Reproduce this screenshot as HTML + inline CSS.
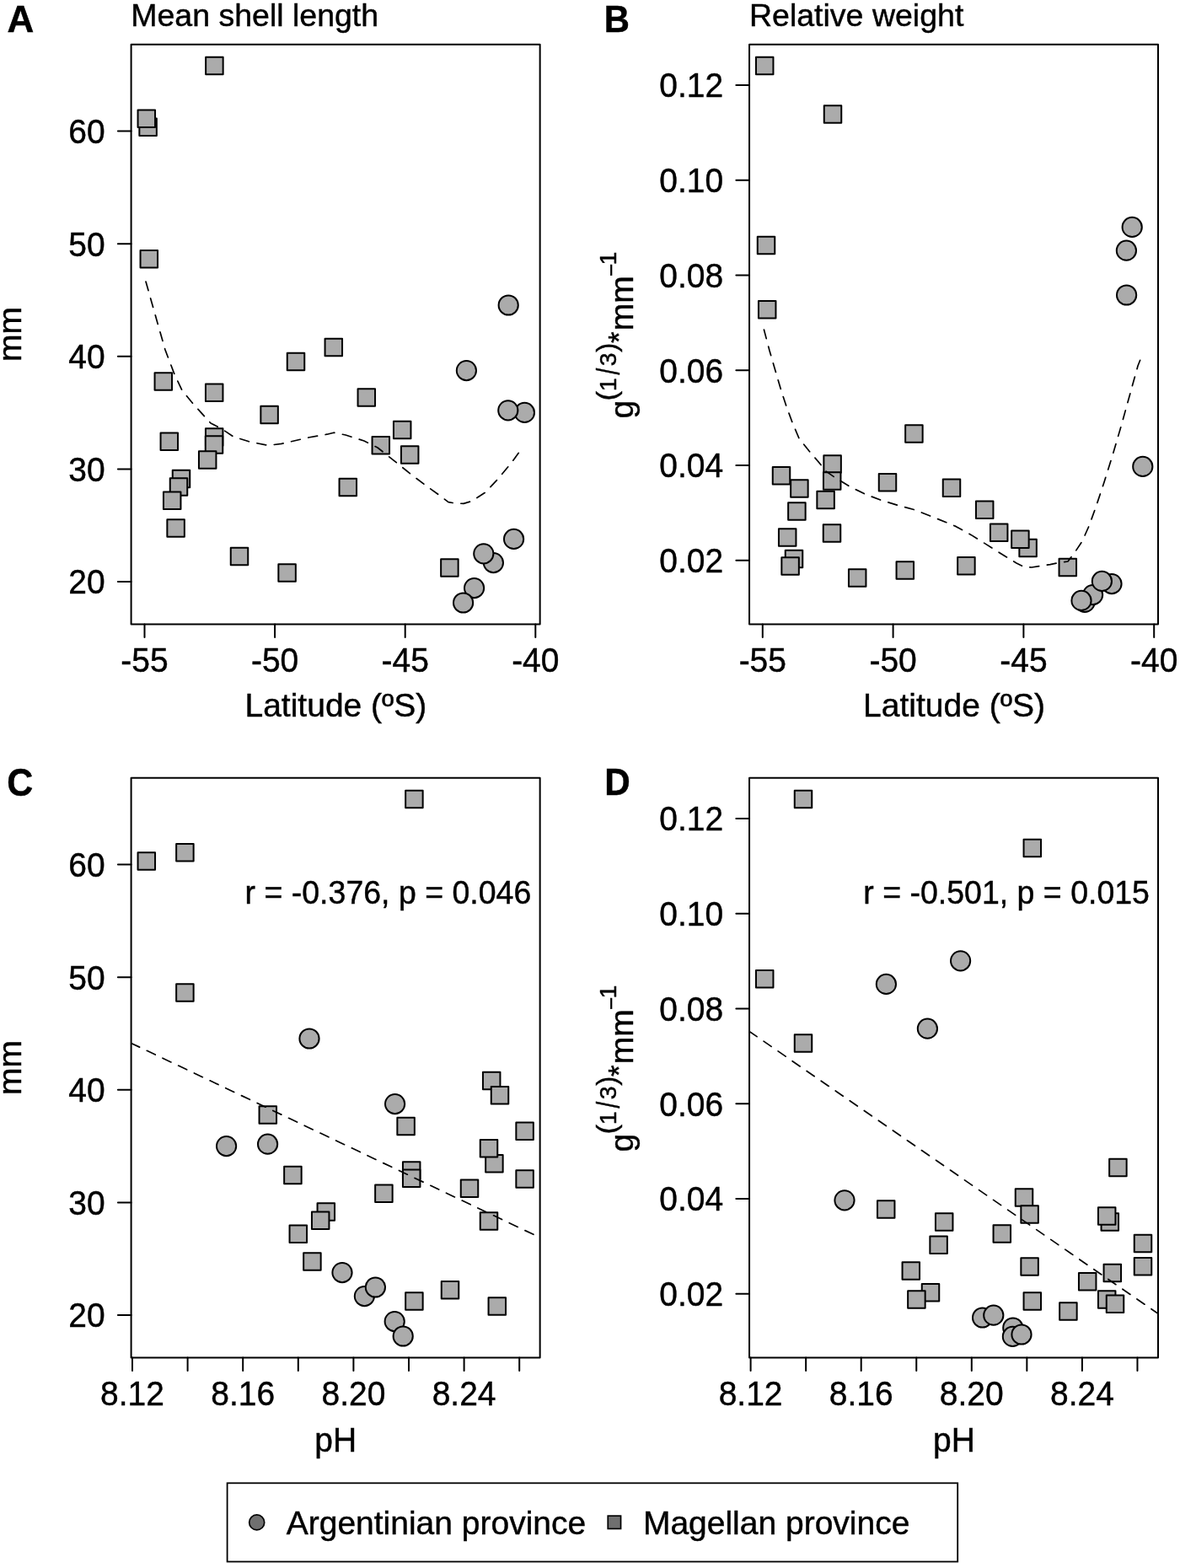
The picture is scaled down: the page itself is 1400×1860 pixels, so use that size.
<!DOCTYPE html>
<html lang="en"><head><meta charset="utf-8"><title>Shell length and relative weight vs latitude and pH</title>
<style>html,body{margin:0;padding:0;background:#fff}body{width:1400px;height:1860px;overflow:hidden}svg{display:block}text{font-family:"Liberation Sans",Arial,Helvetica,sans-serif;fill:#000;stroke:#000;stroke-width:0.45px}</style></head><body>
<svg width="1400" height="1860" viewBox="0 0 1400 1860" font-size="39.0">
<rect width="1400" height="1860" fill="#fff"/>
<defs><clipPath id="clipC"><rect x="155.6" y="922.7" width="485.05" height="687.7"/></clipPath><clipPath id="clipD"><rect x="889.05" y="922.7" width="484.95" height="687.7"/></clipPath></defs>
<rect x="155.6" y="52.7" width="485.05" height="687.70" fill="none" stroke="#000" stroke-width="2.0" stroke-linejoin="round"/>
<path d="M155.6 155.60h-15.7M155.6 289.20h-15.7M155.6 422.80h-15.7M155.6 556.40h-15.7M155.6 690.00h-15.7" stroke="#000" stroke-width="2.0" stroke-linecap="round" fill="none"/>
<text transform="translate(124.60,170.00) scale(0.9610,1)" font-size="40.58" text-anchor="end">60</text>
<text transform="translate(124.60,303.60) scale(0.9610,1)" font-size="40.58" text-anchor="end">50</text>
<text transform="translate(124.60,437.20) scale(0.9610,1)" font-size="40.58" text-anchor="end">40</text>
<text transform="translate(124.60,570.80) scale(0.9610,1)" font-size="40.58" text-anchor="end">30</text>
<text transform="translate(124.60,704.40) scale(0.9610,1)" font-size="40.58" text-anchor="end">20</text>
<text transform="translate(25,396.4) rotate(-90)" text-anchor="middle">mm</text>
<rect x="889.05" y="52.7" width="484.95" height="687.70" fill="none" stroke="#000" stroke-width="2.0" stroke-linejoin="round"/>
<path d="M889.05 101.00h-15.7M889.05 213.75h-15.7M889.05 326.50h-15.7M889.05 439.25h-15.7M889.05 552.00h-15.7M889.05 664.75h-15.7" stroke="#000" stroke-width="2.0" stroke-linecap="round" fill="none"/>
<text transform="translate(858.20,115.40) scale(0.9610,1)" font-size="40.58" text-anchor="end">0.12</text>
<text transform="translate(858.20,228.15) scale(0.9610,1)" font-size="40.58" text-anchor="end">0.10</text>
<text transform="translate(858.20,340.90) scale(0.9610,1)" font-size="40.58" text-anchor="end">0.08</text>
<text transform="translate(858.20,453.65) scale(0.9610,1)" font-size="40.58" text-anchor="end">0.06</text>
<text transform="translate(858.20,566.40) scale(0.9610,1)" font-size="40.58" text-anchor="end">0.04</text>
<text transform="translate(858.20,679.15) scale(0.9610,1)" font-size="40.58" text-anchor="end">0.02</text>
<g transform="translate(750.5,494.1) rotate(-90)"><text x="-2.4" y="0.2">g</text><text x="18.84" y="-19.62" font-size="33.7" stroke-width="0.2">(</text><text x="29.76" y="-19.4" font-size="28.5">1</text><text transform="translate(49.65,-15.37) scale(0.72,1)" font-size="38.7" stroke-width="0.3">/</text><text x="59.9" y="-19.3" font-size="28.5">3</text><text x="76.38" y="-19.62" font-size="33.7" stroke-width="0.2">)</text><text x="87.04" y="-4.44" font-size="35">*</text><text x="101.9" y="0">mm</text><text x="166.2" y="-16.98" font-size="26">−</text><text x="179.7" y="-19.4" font-size="28.5">1</text></g>
<rect x="155.6" y="922.7" width="485.05" height="687.70" fill="none" stroke="#000" stroke-width="2.0" stroke-linejoin="round"/>
<path d="M155.6 1025.60h-15.7M155.6 1159.20h-15.7M155.6 1292.80h-15.7M155.6 1426.40h-15.7M155.6 1560.00h-15.7" stroke="#000" stroke-width="2.0" stroke-linecap="round" fill="none"/>
<text transform="translate(124.60,1040.00) scale(0.9610,1)" font-size="40.58" text-anchor="end">60</text>
<text transform="translate(124.60,1173.60) scale(0.9610,1)" font-size="40.58" text-anchor="end">50</text>
<text transform="translate(124.60,1307.20) scale(0.9610,1)" font-size="40.58" text-anchor="end">40</text>
<text transform="translate(124.60,1440.80) scale(0.9610,1)" font-size="40.58" text-anchor="end">30</text>
<text transform="translate(124.60,1574.40) scale(0.9610,1)" font-size="40.58" text-anchor="end">20</text>
<text transform="translate(25,1266.4) rotate(-90)" text-anchor="middle">mm</text>
<rect x="889.05" y="922.7" width="484.95" height="687.70" fill="none" stroke="#000" stroke-width="2.0" stroke-linejoin="round"/>
<path d="M889.05 971.00h-15.7M889.05 1083.75h-15.7M889.05 1196.50h-15.7M889.05 1309.25h-15.7M889.05 1422.00h-15.7M889.05 1534.75h-15.7" stroke="#000" stroke-width="2.0" stroke-linecap="round" fill="none"/>
<text transform="translate(858.20,985.40) scale(0.9610,1)" font-size="40.58" text-anchor="end">0.12</text>
<text transform="translate(858.20,1098.15) scale(0.9610,1)" font-size="40.58" text-anchor="end">0.10</text>
<text transform="translate(858.20,1210.90) scale(0.9610,1)" font-size="40.58" text-anchor="end">0.08</text>
<text transform="translate(858.20,1323.65) scale(0.9610,1)" font-size="40.58" text-anchor="end">0.06</text>
<text transform="translate(858.20,1436.40) scale(0.9610,1)" font-size="40.58" text-anchor="end">0.04</text>
<text transform="translate(858.20,1549.15) scale(0.9610,1)" font-size="40.58" text-anchor="end">0.02</text>
<g transform="translate(750.5,1364.1) rotate(-90)"><text x="-2.4" y="0.2">g</text><text x="18.84" y="-19.62" font-size="33.7" stroke-width="0.2">(</text><text x="29.76" y="-19.4" font-size="28.5">1</text><text transform="translate(49.65,-15.37) scale(0.72,1)" font-size="38.7" stroke-width="0.3">/</text><text x="59.9" y="-19.3" font-size="28.5">3</text><text x="76.38" y="-19.62" font-size="33.7" stroke-width="0.2">)</text><text x="87.04" y="-4.44" font-size="35">*</text><text x="101.9" y="0">mm</text><text x="166.2" y="-16.98" font-size="26">−</text><text x="179.7" y="-19.4" font-size="28.5">1</text></g>
<path d="M171.50 740.4v15.7M326.10 740.4v15.7M480.70 740.4v15.7M635.30 740.4v15.7" stroke="#000" stroke-width="2.0" stroke-linecap="round" fill="none"/>
<text transform="translate(171.50,796.60) scale(0.9610,1)" font-size="40.58" text-anchor="middle">-55</text>
<text transform="translate(326.10,796.60) scale(0.9610,1)" font-size="40.58" text-anchor="middle">-50</text>
<text transform="translate(480.70,796.60) scale(0.9610,1)" font-size="40.58" text-anchor="middle">-45</text>
<text transform="translate(635.30,796.60) scale(0.9610,1)" font-size="40.58" text-anchor="middle">-40</text>
<path d="M904.80 740.4v15.7M1059.60 740.4v15.7M1214.40 740.4v15.7M1369.20 740.4v15.7" stroke="#000" stroke-width="2.0" stroke-linecap="round" fill="none"/>
<text transform="translate(904.80,796.60) scale(0.9610,1)" font-size="40.58" text-anchor="middle">-55</text>
<text transform="translate(1059.60,796.60) scale(0.9610,1)" font-size="40.58" text-anchor="middle">-50</text>
<text transform="translate(1214.40,796.60) scale(0.9610,1)" font-size="40.58" text-anchor="middle">-45</text>
<text transform="translate(1369.20,796.60) scale(0.9610,1)" font-size="40.58" text-anchor="middle">-40</text>
<text transform="translate(398.40,850.00) scale(1.0000,1)" font-size="39.00" text-anchor="middle">Latitude (ºS)</text>
<text transform="translate(1132.00,850.00) scale(1.0000,1)" font-size="39.00" text-anchor="middle">Latitude (ºS)</text>
<path d="M157.00 1610.4v15.7M222.60 1610.4v15.7M288.20 1610.4v15.7M353.80 1610.4v15.7M419.40 1610.4v15.7M485.00 1610.4v15.7M550.60 1610.4v15.7M616.20 1610.4v15.7" stroke="#000" stroke-width="2.0" stroke-linecap="round" fill="none"/>
<text transform="translate(157.00,1666.70) scale(0.9610,1)" font-size="40.58" text-anchor="middle">8.12</text>
<text transform="translate(288.20,1666.70) scale(0.9610,1)" font-size="40.58" text-anchor="middle">8.16</text>
<text transform="translate(419.40,1666.70) scale(0.9610,1)" font-size="40.58" text-anchor="middle">8.20</text>
<text transform="translate(550.60,1666.70) scale(0.9610,1)" font-size="40.58" text-anchor="middle">8.24</text>
<path d="M890.60 1610.4v15.7M956.15 1610.4v15.7M1021.70 1610.4v15.7M1087.25 1610.4v15.7M1152.80 1610.4v15.7M1218.35 1610.4v15.7M1283.90 1610.4v15.7M1349.45 1610.4v15.7" stroke="#000" stroke-width="2.0" stroke-linecap="round" fill="none"/>
<text transform="translate(890.60,1666.70) scale(0.9610,1)" font-size="40.58" text-anchor="middle">8.12</text>
<text transform="translate(1021.70,1666.70) scale(0.9610,1)" font-size="40.58" text-anchor="middle">8.16</text>
<text transform="translate(1152.80,1666.70) scale(0.9610,1)" font-size="40.58" text-anchor="middle">8.20</text>
<text transform="translate(1283.90,1666.70) scale(0.9610,1)" font-size="40.58" text-anchor="middle">8.24</text>
<text transform="translate(398.20,1722.00) scale(0.9709,1)" font-size="40.17" text-anchor="middle">pH</text>
<text transform="translate(1132.00,1722.00) scale(0.9709,1)" font-size="40.17" text-anchor="middle">pH</text>
<text transform="translate(155.20,31.30) scale(1.0000,1)" font-size="37.50" text-anchor="start">Mean shell length</text>
<text transform="translate(889.00,31.30) scale(1.0000,1)" font-size="37.50" text-anchor="start">Relative weight</text>
<g font-weight="bold" font-size="44" stroke-width="0.3">
<text x="8.6" y="38.2">A</text>
<text transform="translate(716.8,38.3) scale(0.95,1)">B</text>
<text transform="translate(8.2,943.8) scale(0.925,1)" font-size="46.5">C</text>
<text transform="translate(717.2,942.8) scale(0.96,1)">D</text>
</g>
<g fill="#ababab" stroke="#000" stroke-width="2.0" stroke-linejoin="round">
<rect x="244.15" y="67.75" width="20.5" height="20.5"/>
<rect x="165.35" y="140.55" width="20.5" height="20.5"/>
<rect x="163.55" y="130.55" width="20.5" height="20.5"/>
<rect x="166.55" y="296.95" width="20.5" height="20.5"/>
<rect x="183.55" y="442.15" width="20.5" height="20.5"/>
<rect x="243.95" y="455.55" width="20.5" height="20.5"/>
<rect x="340.75" y="418.75" width="20.5" height="20.5"/>
<rect x="385.55" y="401.75" width="20.5" height="20.5"/>
<rect x="309.35" y="481.75" width="20.5" height="20.5"/>
<rect x="190.55" y="513.55" width="20.5" height="20.5"/>
<rect x="243.95" y="508.35" width="20.5" height="20.5"/>
<rect x="243.75" y="517.15" width="20.5" height="20.5"/>
<rect x="235.95" y="535.35" width="20.5" height="20.5"/>
<rect x="204.75" y="557.75" width="20.5" height="20.5"/>
<rect x="201.75" y="567.35" width="20.5" height="20.5"/>
<rect x="193.95" y="583.55" width="20.5" height="20.5"/>
<rect x="198.35" y="616.35" width="20.5" height="20.5"/>
<rect x="273.75" y="649.75" width="20.5" height="20.5"/>
<rect x="330.35" y="669.15" width="20.5" height="20.5"/>
<rect x="402.55" y="567.75" width="20.5" height="20.5"/>
<rect x="424.55" y="461.35" width="20.5" height="20.5"/>
<rect x="466.95" y="499.75" width="20.5" height="20.5"/>
<rect x="441.55" y="517.95" width="20.5" height="20.5"/>
<rect x="475.95" y="529.35" width="20.5" height="20.5"/>
<rect x="523.15" y="663.15" width="20.5" height="20.5"/>
<circle cx="603.20" cy="362.00" r="11.6"/>
<circle cx="553.40" cy="439.60" r="11.6"/>
<circle cx="622.40" cy="489.40" r="11.6"/>
<circle cx="602.80" cy="486.80" r="11.6"/>
<circle cx="609.60" cy="639.40" r="11.6"/>
<circle cx="585.40" cy="667.60" r="11.6"/>
<circle cx="573.80" cy="656.80" r="11.6"/>
<circle cx="562.60" cy="697.60" r="11.6"/>
<circle cx="549.60" cy="715.00" r="11.6"/>
</g>
<polyline points="173.0,334.0 186.0,380.0 196.0,415.0 207.0,444.0 216.0,463.0 230.0,480.0 250.0,502.0 262.0,508.0 277.0,518.0 296.0,524.0 318.0,528.4 334.0,526.4 366.0,519.0 388.0,515.2 396.0,513.2 410.0,516.0 432.0,523.0 448.0,531.0 472.0,550.0 488.0,563.0 504.0,575.0 522.0,588.0 532.0,595.6 540.0,597.0 550.0,597.4 560.0,594.4 576.0,584.0 590.0,569.0 606.0,550.0 617.0,535.0" fill="none" stroke="#000" stroke-width="1.7" stroke-dasharray="11 9.7" stroke-linecap="round" stroke-linejoin="round"/>
<g fill="#ababab" stroke="#000" stroke-width="2.0" stroke-linejoin="round">
<rect x="896.95" y="67.75" width="20.5" height="20.5"/>
<rect x="977.75" y="125.35" width="20.5" height="20.5"/>
<rect x="898.75" y="280.75" width="20.5" height="20.5"/>
<rect x="899.95" y="356.95" width="20.5" height="20.5"/>
<rect x="916.75" y="553.95" width="20.5" height="20.5"/>
<rect x="938.15" y="569.35" width="20.5" height="20.5"/>
<rect x="977.35" y="540.15" width="20.5" height="20.5"/>
<rect x="976.95" y="560.15" width="20.5" height="20.5"/>
<rect x="969.35" y="582.75" width="20.5" height="20.5"/>
<rect x="935.15" y="596.35" width="20.5" height="20.5"/>
<rect x="923.95" y="627.35" width="20.5" height="20.5"/>
<rect x="976.75" y="622.35" width="20.5" height="20.5"/>
<rect x="931.75" y="652.75" width="20.5" height="20.5"/>
<rect x="927.35" y="661.15" width="20.5" height="20.5"/>
<rect x="1006.95" y="675.15" width="20.5" height="20.5"/>
<rect x="1063.55" y="666.35" width="20.5" height="20.5"/>
<rect x="1074.15" y="504.35" width="20.5" height="20.5"/>
<rect x="1042.75" y="561.95" width="20.5" height="20.5"/>
<rect x="1118.75" y="568.55" width="20.5" height="20.5"/>
<rect x="1136.15" y="660.95" width="20.5" height="20.5"/>
<rect x="1157.95" y="594.55" width="20.5" height="20.5"/>
<rect x="1174.95" y="621.55" width="20.5" height="20.5"/>
<rect x="1209.35" y="639.75" width="20.5" height="20.5"/>
<rect x="1200.15" y="629.55" width="20.5" height="20.5"/>
<rect x="1256.55" y="662.75" width="20.5" height="20.5"/>
<circle cx="1343.20" cy="269.40" r="11.6"/>
<circle cx="1336.40" cy="297.20" r="11.6"/>
<circle cx="1336.60" cy="350.00" r="11.6"/>
<circle cx="1355.80" cy="553.40" r="11.6"/>
<circle cx="1319.00" cy="692.60" r="11.6"/>
<circle cx="1287.00" cy="714.40" r="11.6"/>
<circle cx="1296.60" cy="705.60" r="11.6"/>
<circle cx="1307.40" cy="689.40" r="11.6"/>
<circle cx="1283.00" cy="712.40" r="11.6"/>
</g>
<polyline points="906.4,391.0 913.0,416.0 920.0,440.0 927.0,464.0 933.0,482.0 940.0,501.0 948.0,520.0 960.0,535.0 972.0,549.0 980.0,559.0 990.0,566.0 1008.0,577.0 1026.0,586.0 1046.0,593.6 1066.0,599.6 1086.0,605.0 1106.0,613.0 1126.0,621.0 1134.0,624.4 1152.0,634.4 1170.0,645.6 1188.0,657.0 1206.0,668.0 1215.0,672.4 1224.0,673.0 1246.0,669.6 1256.0,667.6 1267.0,666.0 1276.0,654.0 1284.0,642.0 1292.0,624.0 1300.0,602.0 1310.0,572.0 1320.0,540.0 1330.0,506.0 1340.0,470.0 1350.0,434.0 1354.4,423.0" fill="none" stroke="#000" stroke-width="1.7" stroke-dasharray="11 9.7" stroke-linecap="round" stroke-linejoin="round"/>
<g fill="#ababab" stroke="#000" stroke-width="2.0" stroke-linejoin="round">
<rect x="163.55" y="1011.35" width="20.5" height="20.5"/>
<rect x="209.15" y="1000.95" width="20.5" height="20.5"/>
<rect x="209.15" y="1167.35" width="20.5" height="20.5"/>
<rect x="481.15" y="937.75" width="20.5" height="20.5"/>
<rect x="307.55" y="1312.15" width="20.5" height="20.5"/>
<rect x="337.15" y="1383.75" width="20.5" height="20.5"/>
<rect x="376.55" y="1427.15" width="20.5" height="20.5"/>
<rect x="369.95" y="1437.55" width="20.5" height="20.5"/>
<rect x="343.55" y="1453.55" width="20.5" height="20.5"/>
<rect x="360.15" y="1486.35" width="20.5" height="20.5"/>
<rect x="572.95" y="1271.75" width="20.5" height="20.5"/>
<rect x="582.75" y="1288.95" width="20.5" height="20.5"/>
<rect x="471.35" y="1325.75" width="20.5" height="20.5"/>
<rect x="612.35" y="1331.55" width="20.5" height="20.5"/>
<rect x="576.15" y="1369.95" width="20.5" height="20.5"/>
<rect x="569.75" y="1351.95" width="20.5" height="20.5"/>
<rect x="612.35" y="1388.15" width="20.5" height="20.5"/>
<rect x="477.95" y="1378.35" width="20.5" height="20.5"/>
<rect x="477.95" y="1387.55" width="20.5" height="20.5"/>
<rect x="445.15" y="1405.55" width="20.5" height="20.5"/>
<rect x="546.75" y="1399.55" width="20.5" height="20.5"/>
<rect x="569.75" y="1438.15" width="20.5" height="20.5"/>
<rect x="481.15" y="1533.35" width="20.5" height="20.5"/>
<rect x="523.75" y="1519.95" width="20.5" height="20.5"/>
<rect x="579.55" y="1539.35" width="20.5" height="20.5"/>
<circle cx="367.00" cy="1232.00" r="11.6"/>
<circle cx="268.60" cy="1359.60" r="11.6"/>
<circle cx="317.60" cy="1357.20" r="11.6"/>
<circle cx="406.00" cy="1509.60" r="11.6"/>
<circle cx="468.60" cy="1309.60" r="11.6"/>
<circle cx="432.40" cy="1537.60" r="11.6"/>
<circle cx="445.40" cy="1527.00" r="11.6"/>
<circle cx="468.20" cy="1567.60" r="11.6"/>
<circle cx="478.20" cy="1585.00" r="11.6"/>
</g>
<polyline points="155.6,1237.4 640.8,1468.1" clip-path="url(#clipC)" fill="none" stroke="#000" stroke-width="1.7" stroke-dasharray="11 9.7" stroke-linecap="round" stroke-linejoin="round"/>
<g fill="#ababab" stroke="#000" stroke-width="2.0" stroke-linejoin="round">
<rect x="942.75" y="937.75" width="20.5" height="20.5"/>
<rect x="896.95" y="1150.95" width="20.5" height="20.5"/>
<rect x="942.75" y="1227.15" width="20.5" height="20.5"/>
<rect x="1040.95" y="1424.15" width="20.5" height="20.5"/>
<rect x="1109.95" y="1439.35" width="20.5" height="20.5"/>
<rect x="1103.35" y="1466.55" width="20.5" height="20.5"/>
<rect x="1070.55" y="1497.35" width="20.5" height="20.5"/>
<rect x="1093.75" y="1522.95" width="20.5" height="20.5"/>
<rect x="1077.15" y="1531.35" width="20.5" height="20.5"/>
<rect x="1316.15" y="1374.75" width="20.5" height="20.5"/>
<rect x="1204.75" y="1410.15" width="20.5" height="20.5"/>
<rect x="1211.35" y="1430.35" width="20.5" height="20.5"/>
<rect x="1178.55" y="1453.15" width="20.5" height="20.5"/>
<rect x="1306.55" y="1439.15" width="20.5" height="20.5"/>
<rect x="1302.95" y="1432.15" width="20.5" height="20.5"/>
<rect x="1345.75" y="1464.75" width="20.5" height="20.5"/>
<rect x="1345.75" y="1491.95" width="20.5" height="20.5"/>
<rect x="1211.35" y="1492.35" width="20.5" height="20.5"/>
<rect x="1309.55" y="1499.75" width="20.5" height="20.5"/>
<rect x="1279.95" y="1509.95" width="20.5" height="20.5"/>
<rect x="1302.95" y="1531.35" width="20.5" height="20.5"/>
<rect x="1312.75" y="1536.55" width="20.5" height="20.5"/>
<rect x="1214.55" y="1533.15" width="20.5" height="20.5"/>
<rect x="1257.15" y="1545.35" width="20.5" height="20.5"/>
<rect x="1214.55" y="995.75" width="20.5" height="20.5"/>
<circle cx="1051.40" cy="1167.40" r="11.6"/>
<circle cx="1100.40" cy="1220.20" r="11.6"/>
<circle cx="1139.60" cy="1139.80" r="11.6"/>
<circle cx="1002.00" cy="1423.80" r="11.6"/>
<circle cx="1165.60" cy="1563.00" r="11.6"/>
<circle cx="1178.80" cy="1560.20" r="11.6"/>
<circle cx="1201.80" cy="1575.00" r="11.6"/>
<circle cx="1201.40" cy="1585.40" r="11.6"/>
<circle cx="1212.00" cy="1583.00" r="11.6"/>
</g>
<polyline points="889.0,1223.4 1374.0,1558.3" clip-path="url(#clipD)" fill="none" stroke="#000" stroke-width="1.7" stroke-dasharray="11 9.7" stroke-linecap="round" stroke-linejoin="round"/>
<text transform="translate(290.60,1072.20) scale(0.9662,1)" font-size="38.81" text-anchor="start">r = -0.376, p = 0.046</text>
<text transform="translate(1024.30,1072.20) scale(0.9662,1)" font-size="38.81" text-anchor="start">r = -0.501, p = 0.015</text>
<rect x="269.6" y="1759.3" width="866.6" height="93.2" fill="none" stroke="#000" stroke-width="1.8"/>
<circle cx="304.7" cy="1805.9" r="9.0" fill="#707070" stroke="#000" stroke-width="1.7"/>
<rect x="721.25" y="1798.15" width="15.3" height="15.3" fill="#707070" stroke="#000" stroke-width="1.7"/>
<text transform="translate(339.70,1820.00) scale(1.0000,1)" font-size="39.00" text-anchor="start">Argentinian province</text>
<text transform="translate(762.90,1820.00) scale(1.0000,1)" font-size="39.00" text-anchor="start">Magellan province</text>
</svg></body></html>
